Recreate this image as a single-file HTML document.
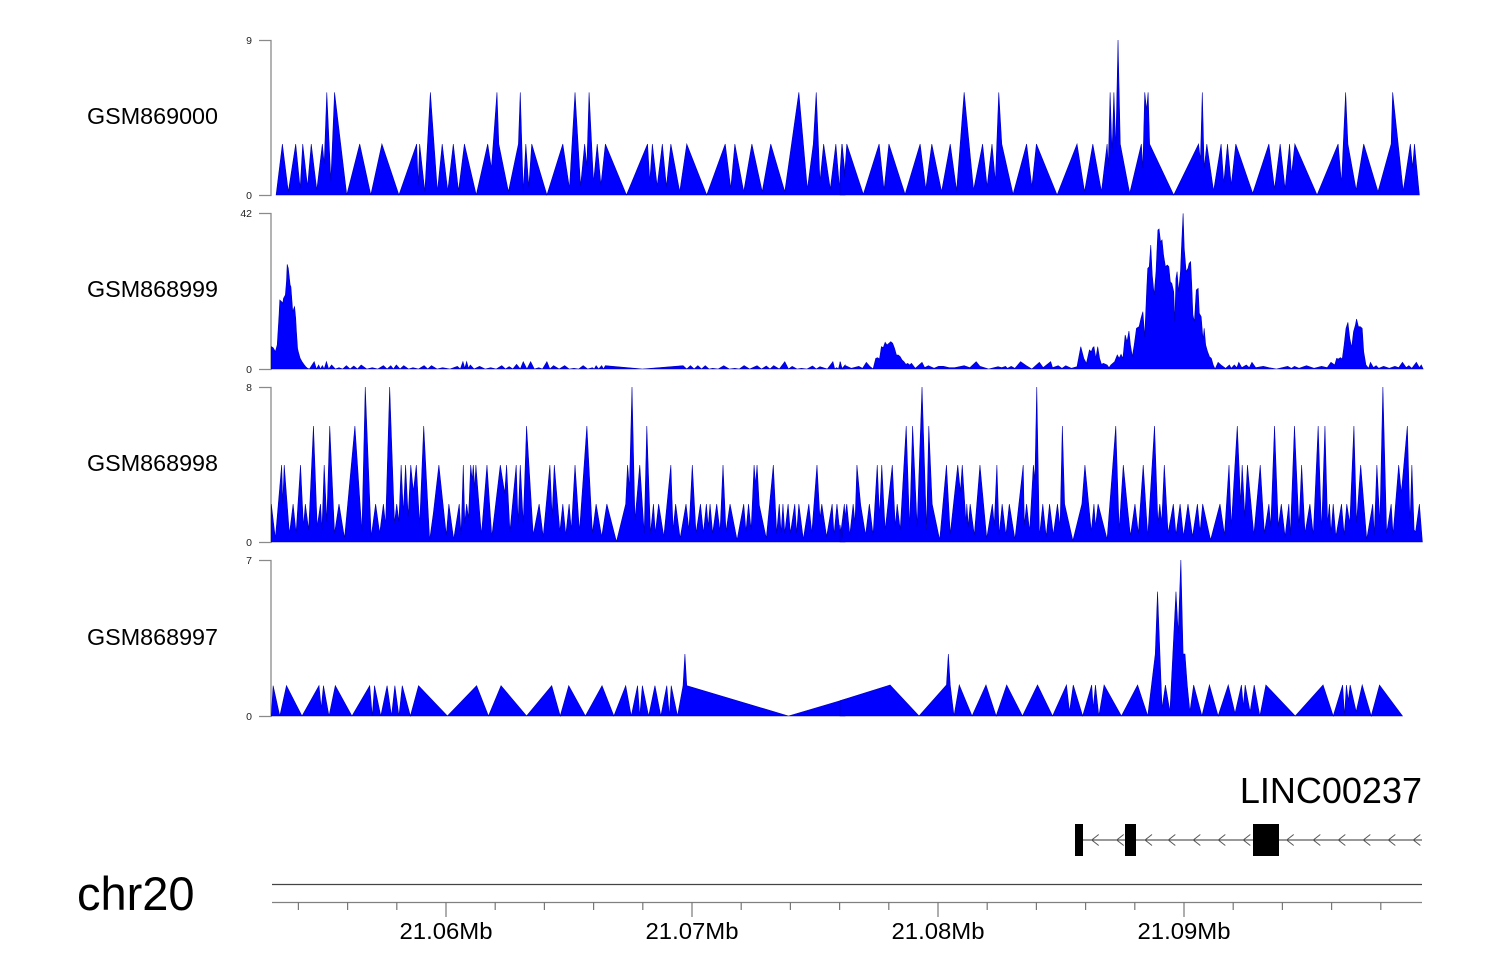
<!DOCTYPE html>
<html>
<head>
<meta charset="utf-8">
<style>
html,body{margin:0;padding:0;background:#fff;}
svg{display:block;}
text{font-family:"Liberation Sans",Arial,sans-serif;}
.s polygon{stroke:#0000b0;stroke-width:0.6;vector-effect:non-scaling-stroke;stroke-linejoin:miter;}
</style>
</head>
<body>
<svg width="1500" height="980" viewBox="0 0 1500 980" xmlns="http://www.w3.org/2000/svg">
<rect width="1500" height="980" fill="#fff"/>

<!-- Track labels -->
<g font-size="23" fill="#000">
<text x="87" y="124" textLength="131" lengthAdjust="spacingAndGlyphs">GSM869000</text>
<text x="87" y="297" textLength="131" lengthAdjust="spacingAndGlyphs">GSM868999</text>
<text x="87" y="471" textLength="131" lengthAdjust="spacingAndGlyphs">GSM868998</text>
<text x="87" y="645" textLength="131" lengthAdjust="spacingAndGlyphs">GSM868997</text>
</g>

<!-- Y axes -->
<g stroke="#8a8a8a" stroke-width="1.3" fill="none">
<path d="M259,40.5H271V195.5H259"/>
<path d="M259,213.5H271V369.5H259"/>
<path d="M259,387.5H271V542.5H259"/>
<path d="M259,560.5H271V716.5H259"/>
</g>
<g font-size="10.5" fill="#222" text-anchor="end">
<text x="252" y="44">9</text>
<text x="252" y="199">0</text>
<text x="252" y="217">42</text>
<text x="252" y="373">0</text>
<text x="252" y="391">8</text>
<text x="252" y="546">0</text>
<text x="252" y="564">7</text>
<text x="252" y="720">0</text>
</g>

<!-- Track 1 -->
<g fill="#0000ff" class="s">
<polygon transform="translate(265,35) scale(0.36996,0.33333)" points="30,480 47,327 63,470 83,327 95,460 102,327 115,455 125,327 140,465 155,327 160,387 167,172 178,437 188,172 221,480 256,327 286,480 316,327 362,480 410,327 414,450 418,327 432,470 447,172 466,470 479,327 494,468 509,327 523,468 539,327 571,480 602,327 612,400 627,172 632,327 658,470 685,327 690,172 698,470 705,327 713,455 721,327 762,480 805,327 823,460 838,172 853,453 864,327 870,393 876,172 888,443 898,327 908,450 920,327 977,480 1034,327 1040,440 1047,327 1060,453 1074,327 1085,455 1097,327 1121,470 1140,327 1194,480 1244,327 1259,460 1270,327 1294,470 1316,327 1344,470 1367,327 1405,470 1443,172 1466,463 1482,327 1490,172 1500,440 1510,327 1528,462 1543,327 1553,460 1560,327 1568,420 1568,480"/>
<polygon transform="translate(840,35) scale(0.37622,0.33333)" points="0,480 0,412 5,327 12,425 18,327 62,478 104,327 117,465 130,327 173,478 213,327 228,462 244,327 270,470 293,327 310,467 330,172 355,465 379,327 391,455 404,327 413,440 422,172 430,327 460,478 496,327 510,455 522,327 577,480 630,327 650,470 672,327 695,470 710,327 713,395 718,172 723,355 728,172 733,340 739,15 745,327 770,475 801,327 805,400 810,172 815,225 819,172 823,327 887,480 953,327 958,375 963,172 968,400 975,327 993,468 1013,327 1020,445 1030,327 1040,450 1052,327 1097,475 1140,327 1155,462 1170,327 1183,462 1195,327 1200,420 1209,327 1268,480 1324,327 1333,445 1344,172 1350,327 1372,465 1392,327 1430,470 1465,327 1469,172 1497,468 1516,327 1522,398 1527,327 1540,480"/>
</g>

<!-- Track 2 -->
<g fill="#0000ff" class="s">
<polygon transform="translate(265,205) scale(0.36996,0.33333)" points="17,492 17,425 22,428 28,440 33,420 38,330 40,285 45,290 48,295 50,280 55,270 58,230 60,178 63,190 65,210 68,240 70,245 73,290 75,320 78,310 80,305 83,340 85,380 88,430 90,440 95,460 100,470 105,478 110,485 115,490 120,492 127,480 133,470 139,492 145,480 150,492 155,482 160,492 166,470 172,492 180,480 190,492 200,488 210,492 220,482 230,492 240,483 250,492 260,480 275,492 290,488 305,492 320,482 330,492 340,482 347,492 355,480 365,492 375,482 388,492 400,488 415,492 430,482 440,492 450,482 465,492 480,488 500,492 520,484 528,492 535,470 540,490 545,470 550,490 555,480 565,492 580,484 595,492 610,488 625,492 640,482 650,492 660,485 670,492 680,478 690,492 698,470 708,492 718,470 728,492 740,488 750,492 762,470 770,492 780,482 795,492 810,482 822,492 835,490 848,492 860,482 872,492 885,488 890,492 895,482 902,492 910,482 915,492 920,482 1020,492 1130,482 1140,492 1150,482 1160,492 1170,482 1180,492 1190,482 1200,492 1210,490 1225,492 1240,482 1255,492 1270,490 1282,492 1295,482 1310,492 1330,482 1342,492 1355,483 1365,492 1375,482 1390,492 1405,470 1415,492 1425,484 1438,492 1450,490 1465,492 1480,483 1490,492 1500,485 1520,492 1535,470 1540,492 1545,488 1550,492 1555,470 1560,492 1562,488 1568,480 1568,492"/>
<polygon transform="translate(840,205) scale(0.37622,0.33333)" points="0,492 0,470 5,490 15,482 30,490 50,484 60,490 70,472 80,485 88,492 95,460 100,458 105,462 110,425 115,428 120,412 125,420 130,415 135,410 140,415 145,430 150,450 155,450 160,455 165,465 170,470 175,478 180,475 185,480 190,475 200,490 218,472 225,488 235,482 250,490 262,484 275,484 290,488 305,488 330,482 345,488 362,470 372,484 395,492 420,485 430,488 440,484 445,490 455,484 465,490 480,470 495,482 510,492 530,472 540,488 560,470 565,488 580,482 590,490 600,482 615,490 630,485 640,425 648,460 655,475 663,435 668,440 672,428 675,425 680,460 685,425 690,460 695,478 700,475 710,480 715,488 720,480 730,470 737,450 742,460 747,448 752,460 758,390 763,410 768,378 772,420 777,455 782,420 788,370 795,365 800,340 805,320 810,395 815,260 818,190 822,185 826,120 830,210 835,270 840,200 845,75 848,72 852,110 856,105 860,150 865,185 870,180 874,185 878,230 882,235 887,260 890,350 893,220 896,200 900,260 905,200 908,120 912,25 915,130 920,200 925,190 928,175 932,170 935,240 938,330 942,350 947,255 952,250 955,325 960,335 965,405 968,370 972,420 977,440 982,455 987,460 992,480 997,492 1005,472 1015,482 1025,490 1035,480 1040,490 1048,480 1055,488 1060,472 1068,488 1080,480 1088,488 1095,472 1105,488 1125,484 1140,488 1160,492 1190,484 1200,490 1208,484 1220,490 1240,482 1260,490 1280,484 1295,488 1305,472 1315,480 1320,460 1325,462 1330,458 1335,462 1340,420 1345,370 1350,352 1355,400 1360,428 1365,380 1370,360 1373,342 1378,365 1383,365 1388,370 1392,440 1398,480 1405,490 1410,472 1418,488 1425,482 1432,490 1445,484 1460,490 1475,484 1485,488 1495,472 1505,488 1512,482 1520,490 1532,472 1540,488 1545,480 1550,492"/>
</g>

<!-- Track 3 -->
<g fill="#0000ff" class="s">
<polygon transform="translate(265,380) scale(0.36996,0.33333)" points="17,486 17,372 28,475 45,255 48,370 52,255 66,462 76,372 84,460 96,255 104,440 109,372 118,450 131,138 141,440 150,372 154,450 160,255 167,425 175,138 188,460 200,372 215,475 243,138 262,455 271,21 287,470 299,372 310,460 320,372 326,435 337,21 350,430 356,372 362,425 368,255 374,400 380,255 387,410 394,255 401,335 409,255 418,435 429,138 445,480 455,400 470,255 490,465 497,372 510,478 525,372 530,465 536,255 540,430 545,372 550,415 556,255 560,300 563,255 567,325 570,255 585,465 600,255 613,470 636,255 648,340 653,255 662,455 679,255 684,430 690,255 698,430 707,138 725,465 741,372 752,470 770,255 776,410 782,255 797,455 805,372 813,465 822,372 828,450 838,255 850,455 870,138 885,460 895,372 910,470 924,372 950,485 975,372 980,255 985,325 992,21 1000,420 1013,255 1025,460 1032,138 1042,460 1050,372 1055,460 1064,372 1078,470 1097,255 1103,450 1110,372 1122,475 1138,372 1146,450 1155,255 1165,460 1177,372 1185,460 1193,372 1198,440 1203,372 1210,460 1221,372 1230,455 1238,255 1246,455 1257,372 1276,480 1294,372 1300,455 1307,372 1314,450 1322,255 1326,315 1330,255 1336,375 1355,475 1374,255 1383,460 1390,372 1395,460 1400,372 1405,460 1414,372 1420,460 1432,372 1437,460 1443,372 1455,478 1470,372 1478,460 1492,255 1500,415 1505,372 1518,470 1533,372 1538,465 1546,372 1555,470 1566,372 1568,420 1568,486"/>
<polygon transform="translate(840,380) scale(0.37622,0.33333)" points="0,486 0,435 5,475 18,372 26,465 35,372 40,430 45,255 55,375 68,465 78,372 88,465 99,255 105,410 111,255 120,450 139,255 147,440 152,372 160,450 176,138 185,445 193,138 205,440 218,21 230,450 236,138 245,372 265,480 283,255 293,462 313,255 320,335 325,255 335,430 337,372 341,440 346,372 357,465 372,255 390,475 405,372 410,435 417,255 423,465 431,372 441,465 450,372 465,478 487,255 490,435 496,372 504,455 514,255 518,300 523,21 530,470 539,372 548,470 557,372 567,465 578,372 585,440 591,138 597,372 619,482 643,372 651,255 668,455 675,372 679,440 686,372 710,478 733,138 742,450 753,255 763,370 772,468 784,372 793,460 806,255 818,470 836,138 845,430 850,372 855,430 862,255 872,460 886,372 893,465 904,372 913,470 925,372 937,470 950,372 957,455 964,372 985,480 1010,372 1022,465 1034,255 1040,440 1056,138 1065,370 1069,255 1076,410 1083,255 1100,465 1117,255 1128,460 1140,372 1145,440 1155,138 1165,440 1173,372 1183,470 1193,372 1197,465 1208,138 1220,440 1227,255 1236,460 1249,372 1258,465 1271,138 1280,455 1289,138 1296,430 1301,372 1305,460 1311,372 1318,470 1333,372 1340,465 1347,372 1355,430 1366,138 1373,428 1384,255 1400,478 1416,372 1420,465 1427,255 1435,430 1443,21 1453,460 1465,372 1470,465 1485,255 1492,340 1508,138 1515,430 1520,255 1526,450 1530,455 1540,372 1548,486"/>
</g>

<!-- Track 4 -->
<g fill="#0000ff" class="s">
<polygon transform="translate(265,640) scale(0.36996,0.33333)" points="17,228 22,137 40,228 58,137 100,228 146,137 152,205 158,137 173,228 190,137 235,228 283,137 290,228 296,137 313,228 330,137 342,228 351,137 362,228 371,137 393,228 415,137 493,228 572,137 604,228 638,137 707,228 775,137 798,228 821,137 866,228 911,137 943,228 975,137 990,228 1007,137 1013,228 1020,137 1037,228 1054,137 1070,228 1086,137 1093,228 1098,137 1115,228 1130,137 1135,42 1140,137 1415,228 1568,178 1568,228"/>
<polygon transform="translate(840,555) scale(0.37622,0.33333)" points="0,483 0,437 133,390 210,483 283,390 288,297 293,390 303,483 317,390 351,483 388,390 415,483 443,390 485,483 525,390 565,483 602,390 610,470 620,390 645,483 669,390 673,460 679,390 688,483 702,390 748,483 791,390 818,483 838,297 844,110 856,460 865,390 877,470 893,110 899,235 906,15 912,297 917,297 923,390 930,470 940,390 962,483 982,390 1005,483 1032,390 1050,475 1067,390 1072,455 1077,390 1090,470 1101,390 1116,483 1132,390 1210,483 1284,390 1311,483 1336,390 1341,483 1346,390 1351,437 1356,390 1372,470 1388,390 1412,483 1434,390 1495,483"/>
</g>

<!-- Gene track -->
<text x="1422" y="803" font-size="36" text-anchor="end" fill="#000">LINC00237</text>
<line x1="1083" y1="840" x2="1422" y2="840" stroke="#333" stroke-width="1"/>
<g fill="none" stroke="#555" stroke-width="1">
<polyline points="1098.7,834.5 1091.7,840 1098.7,845.5"/>
<polyline points="1123.7,834.5 1116.7,840 1123.7,845.5"/>
<polyline points="1152,834.5 1145,840 1152,845.5"/>
<polyline points="1175.3,834.5 1168.3,840 1175.3,845.5"/>
<polyline points="1200.3,834.5 1193.3,840 1200.3,845.5"/>
<polyline points="1225.3,834.5 1218.3,840 1225.3,845.5"/>
<polyline points="1250.3,834.5 1243.3,840 1250.3,845.5"/>
<polyline points="1293.7,834.5 1286.7,840 1293.7,845.5"/>
<polyline points="1320.3,834.5 1313.3,840 1320.3,845.5"/>
<polyline points="1345.3,834.5 1338.3,840 1345.3,845.5"/>
<polyline points="1370.3,834.5 1363.3,840 1370.3,845.5"/>
<polyline points="1395.3,834.5 1388.3,840 1395.3,845.5"/>
<polyline points="1420.3,834.5 1413.3,840 1420.3,845.5"/>
</g>
<g fill="#000">
<rect x="1075" y="824" width="8" height="32"/>
<rect x="1125" y="824" width="11" height="32"/>
<rect x="1253" y="824" width="26" height="32"/>
</g>

<!-- Genome axis -->
<text x="77" y="910" font-size="47" fill="#000">chr20</text>
<line x1="272" y1="884.5" x2="1422" y2="884.5" stroke="#444" stroke-width="1.3"/>
<line x1="272" y1="902.5" x2="1422" y2="902.5" stroke="#808080" stroke-width="1.3"/>
<g stroke="#777" stroke-width="1.2">
<line x1="298.4" y1="902" x2="298.4" y2="910"/>
<line x1="347.6" y1="902" x2="347.6" y2="910"/>
<line x1="396.8" y1="902" x2="396.8" y2="910"/>
<line x1="495.2" y1="902" x2="495.2" y2="910"/>
<line x1="544.4" y1="902" x2="544.4" y2="910"/>
<line x1="593.6" y1="902" x2="593.6" y2="910"/>
<line x1="642.8" y1="902" x2="642.8" y2="910"/>
<line x1="741.2" y1="902" x2="741.2" y2="910"/>
<line x1="790.4" y1="902" x2="790.4" y2="910"/>
<line x1="839.6" y1="902" x2="839.6" y2="910"/>
<line x1="888.8" y1="902" x2="888.8" y2="910"/>
<line x1="987.2" y1="902" x2="987.2" y2="910"/>
<line x1="1036.4" y1="902" x2="1036.4" y2="910"/>
<line x1="1085.6" y1="902" x2="1085.6" y2="910"/>
<line x1="1134.8" y1="902" x2="1134.8" y2="910"/>
<line x1="1233.2" y1="902" x2="1233.2" y2="910"/>
<line x1="1282.4" y1="902" x2="1282.4" y2="910"/>
<line x1="1331.6" y1="902" x2="1331.6" y2="910"/>
<line x1="1380.8" y1="902" x2="1380.8" y2="910"/>
<line x1="446" y1="902" x2="446" y2="917"/>
<line x1="692" y1="902" x2="692" y2="917"/>
<line x1="938" y1="902" x2="938" y2="917"/>
<line x1="1184" y1="902" x2="1184" y2="917"/>
</g>
<g font-size="23" fill="#000" text-anchor="middle">
<text x="446" y="939" textLength="93" lengthAdjust="spacingAndGlyphs">21.06Mb</text>
<text x="692" y="939" textLength="93" lengthAdjust="spacingAndGlyphs">21.07Mb</text>
<text x="938" y="939" textLength="93" lengthAdjust="spacingAndGlyphs">21.08Mb</text>
<text x="1184" y="939" textLength="93" lengthAdjust="spacingAndGlyphs">21.09Mb</text>
</g>
</svg>
</body>
</html>
